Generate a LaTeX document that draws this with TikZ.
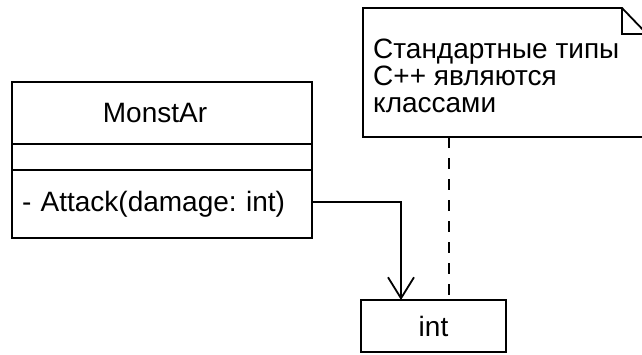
\documentclass[tikz,border=0pt]{standalone}
\usepackage{fontspec}
\setmainfont{Liberation Sans}
\usetikzlibrary{arrows.meta,positioning}
\frenchspacing
\tikzset{
  umlpart/.style={draw,line width=1.8pt,inner sep=0pt,outer sep=0pt,minimum width=300pt,font=\fontsize{28}{27}\selectfont},
  umlline/.style={line width=1.8pt,line join=miter},
  notetext/.style={inner sep=0pt,align=left,font=\fontsize{28}{27}\selectfont},
  assoc/.style={line width=1.8pt,-{Straight Barb[length=21pt,width=26pt]}},
  notelink/.style={line width=1.8pt,dash pattern=on 11pt off 10pt}
}

\begin{document}
\begin{tikzpicture}[x=1pt,y=1pt]
  \path[use as bounding box,fill=white] (0,0) rectangle (642,354);
  % class with its three compartments
  \node[umlpart,minimum height=62pt,anchor=north west,label={[xshift=-7pt,font=\fontsize{28}{27}\selectfont]center:MonstAr}] (monstar) at (12,272) {};
  \node[umlpart,minimum height=26pt,below=0pt of monstar] (fields) {};
  \node[umlpart,minimum height=68pt,below=0pt of fields,text width=280pt,inner xsep=10pt,align=left] (attack) {- Attack(damage: int)};
  \node[umlpart,minimum width=145pt,minimum height=52pt] (int) at (433.5,28) {int};
  % note with folded corner
  \node[minimum width=284pt,minimum height=129pt,inner sep=0pt,outer sep=0pt,anchor=north west] (note) at (363,346) {};
  \draw[umlline] (note.north west) -- ([xshift=-25pt]note.north east) -- ([yshift=-26pt]note.north east) -- (note.south east) -- (note.south west) -- cycle;
  \draw[umlline] ([xshift=-25pt]note.north east) |- ([yshift=-26pt]note.north east);
  \node[notetext,anchor=north west] (notetxt) at ([xshift=10pt,yshift=-31pt]note.north west) {Стандартные типы\\C++ являются\\классами};
  \draw[notelink] ([xshift=-56pt]note.south) -- ([xshift=-56pt]note.south |- int.north);
  \draw[assoc] ([yshift=2pt]attack.east) -| ([xshift=-32.5pt]int.north);
\end{tikzpicture}
\end{document}
